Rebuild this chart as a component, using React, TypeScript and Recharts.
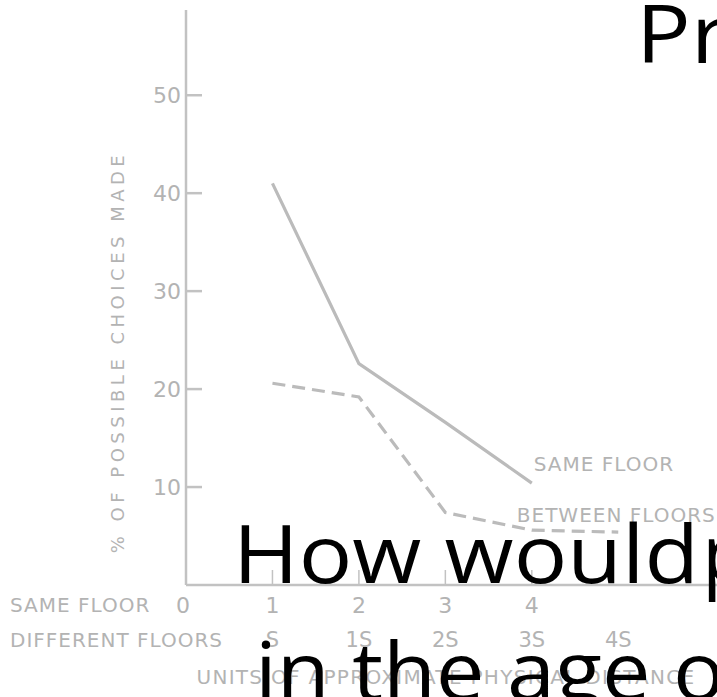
import React from 'react';
import { LineChart, Line, XAxis, YAxis } from 'recharts';

const DISTANCE = [1, 2, 3, 4, 5];
const SAME_FLOOR = [41.0, 22.6, 16.6, 10.4, null];
const BETWEEN_FLOORS = [20.6, 19.2, 7.4, 5.6, 5.4];
const Y_TICKS = [10, 20, 30, 40, 50];
const X_TICKS = [0, 1, 2, 3, 4, 5];
const SAME_FLOOR_TICKS = ['0', '1', '2', '3', '4', ''];
const DIFFERENT_FLOOR_TICKS = ['', 'S', '1S', '2S', '3S', '4S'];

const LINE_GRAY = '#bbbbbb';
const AXIS_GRAY = '#c2c2c2';
const TEXT_GRAY = '#b3b3b3';
const DRAFT_FONT = '"DejaVu Sans", sans-serif';
const SLIDE_FONT = '"Open Sans", sans-serif';

const data = DISTANCE.map((d, i) => ({
    distance: d,
    same: SAME_FLOOR[i],
    between: BETWEEN_FLOORS[i],
}));

// y ticks point inward, like the hand drawn figure
const YTick = ({ x, y, payload }: any) => (
    <g>
        <line x1={x + 5} x2={x + 21} y1={y} y2={y} stroke={AXIS_GRAY} strokeWidth={2.5} />
        <text x={x} y={y} textAnchor="end" dominantBaseline="central" fontFamily={DRAFT_FONT} fontSize={22} fill={TEXT_GRAY}>
            {payload.value}
        </text>
    </g>
);

const XTick = ({ x, y, payload }: any) => {
    const i = X_TICKS.indexOf(payload.value);
    return (
        <g>
            {payload.value > 0 && payload.value < 5 && (
                <line x1={x} x2={x} y1={y} y2={y - 15} stroke={AXIS_GRAY} strokeWidth={1.5} />
            )}
            {i === 0 && (
                <g fontFamily={DRAFT_FONT} fontSize={20} fill={TEXT_GRAY} letterSpacing={1}>
                    <text x={x - 176} y={y + 20} dominantBaseline="central">SAME FLOOR</text>
                    <text x={x - 176} y={y + 55} dominantBaseline="central">DIFFERENT FLOORS</text>
                </g>
            )}
            <text x={i === 0 ? x - 3 : x} y={y + 20} textAnchor="middle" dominantBaseline="central" fontFamily={DRAFT_FONT} fontSize={22} fill={TEXT_GRAY}>
                {SAME_FLOOR_TICKS[i]}
            </text>
            <text x={x} y={y + 55} textAnchor="middle" dominantBaseline="central" fontFamily={DRAFT_FONT} fontSize={21} fill={TEXT_GRAY}>
                {DIFFERENT_FLOOR_TICKS[i]}
            </text>
        </g>
    );
};

const endLabel = (text: string, index: number, dx: number, dy: number) => (props: any) => {
    if (props.index !== index) return <g />;
    return (
        <text x={props.x + dx} y={props.y + dy} dominantBaseline="central" fontFamily={DRAFT_FONT} fontSize={20} letterSpacing={1} fill={TEXT_GRAY}>
            {text}
        </text>
    );
};

export default function App() {
    return (
        <div style={{ position: 'absolute', left: 0, top: 0, width: 717, height: 697, overflow: 'hidden', background: '#fff' }}>
            <LineChart width={740} height={697} data={data} margin={{ top: 10, right: 18, bottom: 0, left: 0 }}>
                <XAxis
                    dataKey="distance"
                    type="number"
                    domain={[0, 6.2]}
                    ticks={X_TICKS}
                    tick={<XTick />}
                    tickLine={false}
                    tickSize={0}
                    tickMargin={0}
                    height={112}
                    axisLine={{ stroke: AXIS_GRAY, strokeWidth: 2.5 }}
                    label={({ viewBox }: any) => (
                        <text x={viewBox.x + 260} y={viewBox.y + 92} textAnchor="middle" dominantBaseline="central" fontFamily={DRAFT_FONT} fontSize={20} letterSpacing={1.3} fill={TEXT_GRAY}>
                            UNITS OF APPROXIMATE PHYSICAL DISTANCE
                        </text>
                    )}
                />
                <YAxis
                    type="number"
                    domain={[0, 58.7]}
                    ticks={Y_TICKS}
                    tick={<YTick />}
                    tickLine={false}
                    tickSize={0}
                    tickMargin={5}
                    width={186}
                    axisLine={{ stroke: AXIS_GRAY, strokeWidth: 2.5 }}
                    label={() => (
                        <text
                            x={117}
                            y={352}
                            transform="rotate(-90 117 352)"
                            textAnchor="middle"
                            dominantBaseline="central"
                            fontFamily={DRAFT_FONT}
                            fontSize={18}
                            letterSpacing={4.5}
                            fill={TEXT_GRAY}
                        >
                            % OF POSSIBLE CHOICES MADE
                        </text>
                    )}
                />
                <Line
                    dataKey="same"
                    stroke={LINE_GRAY}
                    strokeWidth={3.2}
                    dot={false}
                    connectNulls={false}
                    isAnimationActive={false}
                    label={endLabel('SAME FLOOR', 3, 2, -19)}
                />
                <Line
                    dataKey="between"
                    stroke={LINE_GRAY}
                    strokeWidth={3.2}
                    strokeDasharray="13 7"
                    dot={false}
                    isAnimationActive={false}
                    label={endLabel('BETWEEN FLOORS', 3, -15, -15)}
                />
            </LineChart>
            {/* slide text laid over the scanned figure */}
            <svg width={717} height={697} style={{ position: 'absolute', left: 0, top: 0, pointerEvents: 'none' }}>
                <g fontFamily={SLIDE_FONT} fontSize={80} fill="#000">
                    <text x={636} y={63} textLength={92} lengthAdjust="spacingAndGlyphs">Pr</text>
                    <text x={233} y={583} textLength={466} lengthAdjust="spacingAndGlyphs">How would</text>
                    <text x={702} y={583}>p</text>
                    <text x={255} y={700} textLength={499} lengthAdjust="spacingAndGlyphs">in the age of</text>
                </g>
            </svg>
        </div>
    );
}
